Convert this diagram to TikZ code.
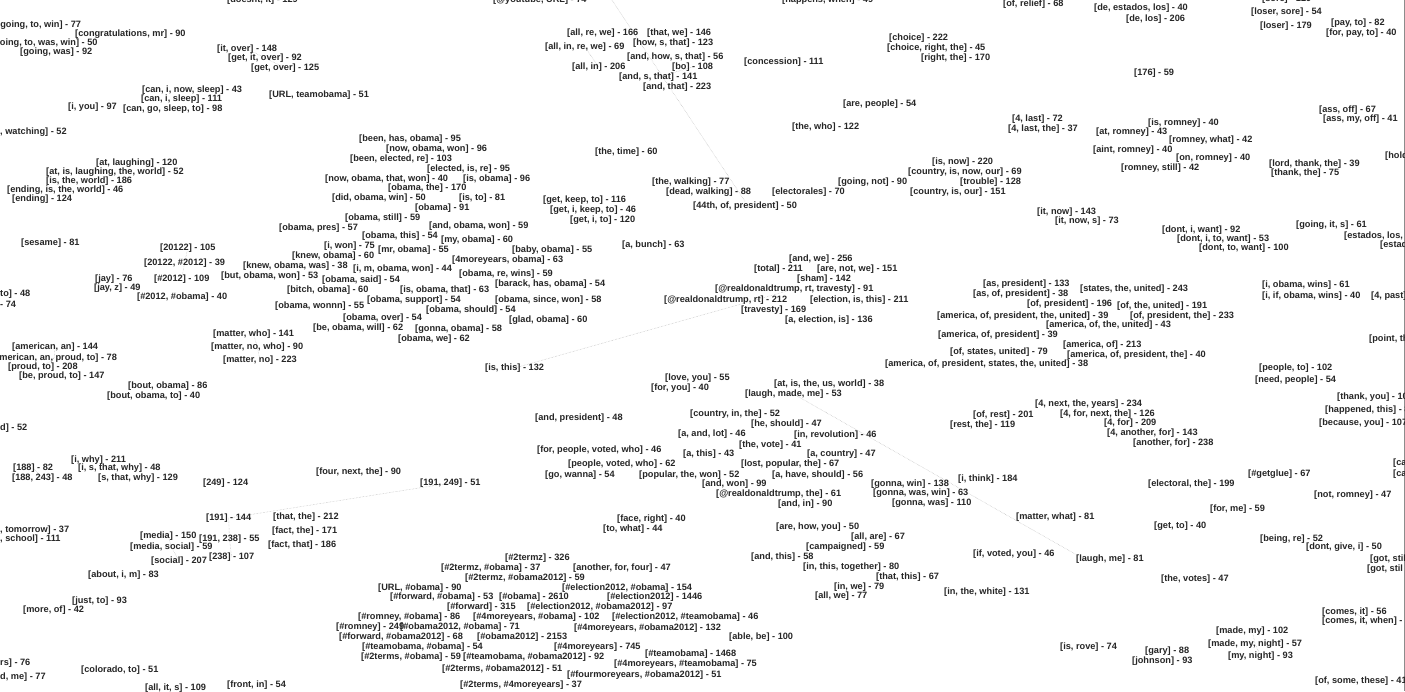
\documentclass[tikz,border=0pt]{standalone}
\usepackage{fontspec}
\setmainfont{Liberation Sans}
\usetikzlibrary{backgrounds}

\begin{document}
\begin{tikzpicture}[
    x=1pt, y=-1pt,
    lbl/.style={anchor=west, inner sep=0pt, font=\fontsize{9.2}{10}\selectfont\bfseries, text=black!85},
    link/.style={draw=black!30, densely dotted, line width=0.45pt}
]
    \useasboundingbox (0,0) rectangle (1405,691);
    \clip (0,0) rectangle (1405,691);

    % top border row
    \node[lbl] (doesntit) at (227,0) {[doesnt, it] - 129};
    \node[lbl] (youtube) at (493,0) {[@youtube, URL] - 74};
    \node[lbl] (happens) at (782,0) {[happens, when] - 49};
    \node[lbl] (relief) at (1003,4) {[of, relief] - 68};
    \node[lbl] (sore) at (1262,-1) {[sore] - 129};

    % upper left
    \node[lbl] (goingtowin) at (-3,25) {[going, to, win] - 77};
    \node[lbl] (congrats) at (75,34) {[congratulations, mr] - 90};
    \node[lbl] (goingtowaswin) at (-9,43) {[going, to, was, win] - 50};
    \node[lbl] (goingwas) at (20,52) {[going, was] - 92};
    \node[lbl] (itover) at (217,49) {[it, over] - 148};
    \node[lbl] (getitover) at (228,58) {[get, it, over] - 92};
    \node[lbl] (getover) at (251,68) {[get, over] - 125};
    \node[lbl] (cannowsleep) at (142,90) {[can, i, now, sleep] - 43};
    \node[lbl] (canisleep) at (141,99) {[can, i, sleep] - 111};
    \node[lbl] (iyou) at (68,107) {[i, you] - 97};
    \node[lbl] (cangosleep) at (123,109) {[can, go, sleep, to] - 98};
    \node[lbl] (urlteam) at (269,95) {[URL, teamobama] - 51};
    \node[lbl] (watching) at (0,132) {, watching] - 52};
    \node[lbl] (atlaughing) at (96,163) {[at, laughing] - 120};
    \node[lbl] (atislaughing) at (46,172) {[at, is, laughing, the, world] - 52};
    \node[lbl] (istheworld) at (46,181) {[is, the, world] - 186};
    \node[lbl] (endingis) at (7,190) {[ending, is, the, world] - 46};
    \node[lbl] (ending) at (12,199) {[ending] - 124};
    \node[lbl] (obamapres) at (279,228) {[obama, pres] - 57};

    % obama cluster
    \node[lbl] (beenhas) at (359,139) {[been, has, obama] - 95};
    \node[lbl] (nowobamawon) at (386,149) {[now, obama, won] - 96};
    \node[lbl] (beenelected) at (350,159) {[been, elected, re] - 103};
    \node[lbl] (electedisre) at (427,169) {[elected, is, re] - 95};
    \node[lbl] (nowobamathat) at (325,179) {[now, obama, that, won] - 40};
    \node[lbl] (isobama) at (463,179) {[is, obama] - 96};
    \node[lbl] (obamathe) at (388,188) {[obama, the] - 170};
    \node[lbl] (didobama) at (332,198) {[did, obama, win] - 50};
    \node[lbl] (isto) at (459,198) {[is, to] - 81};
    \node[lbl] (obama) at (415,208) {[obama] - 91};
    \node[lbl] (obamastill) at (345,218) {[obama, still] - 59};
    \node[lbl] (andobamawon) at (429,226) {[and, obama, won] - 59};
    \node[lbl] (obamathis) at (362,236) {[obama, this] - 54};
    \node[lbl] (myobama) at (441,240) {[my, obama] - 60};
    \node[lbl] (iwon) at (324,246) {[i, won] - 75};
    \node[lbl] (mrobama) at (378,250) {[mr, obama] - 55};
    \node[lbl] (babyobama) at (512,250) {[baby, obama] - 55};
    \node[lbl] (knewobama) at (292,256) {[knew, obama] - 60};
    \node[lbl] (fourmoreobama) at (452,260) {[4moreyears, obama] - 63};
    \node[lbl] (knewobamawas) at (243,266) {[knew, obama, was] - 38};
    \node[lbl] (imobamawon) at (353,269) {[i, m, obama, won] - 44};
    \node[lbl] (obamarewins) at (459,274) {[obama, re, wins] - 59};
    \node[lbl] (butobama) at (221,276) {[but, obama, won] - 53};
    \node[lbl] (obamasaid) at (322,280) {[obama, said] - 54};
    \node[lbl] (barack) at (495,284) {[barack, has, obama] - 54};
    \node[lbl] (bitch) at (287,290) {[bitch, obama] - 60};
    \node[lbl] (isobamathat) at (400,290) {[is, obama, that] - 63};
    \node[lbl] (obamasupport) at (367,300) {[obama, support] - 54};
    \node[lbl] (obamasince) at (495,300) {[obama, since, won] - 58};
    \node[lbl] (obamawonnn) at (275,306) {[obama, wonnn] - 55};
    \node[lbl] (obamashould) at (426,310) {[obama, should] - 54};
    \node[lbl] (obamaover) at (343,318) {[obama, over] - 54};
    \node[lbl] (glad) at (509,320) {[glad, obama] - 60};
    \node[lbl] (beobama) at (313,328) {[be, obama, will] - 62};
    \node[lbl] (gonnaobama) at (415,329) {[gonna, obama] - 58};
    \node[lbl] (obamawe) at (398,339) {[obama, we] - 62};

    % upper middle
    \node[lbl] (allrewe) at (567,33) {[all, re, we] - 166};
    \node[lbl] (allinrewe) at (545,47) {[all, in, re, we] - 69};
    \node[lbl] (allin) at (572,67) {[all, in] - 206};
    \node[lbl] (thatwe) at (647,33) {[that, we] - 146};
    \node[lbl] (howsthat) at (633,43) {[how, s, that] - 123};
    \node[lbl] (andhowsthat) at (627,57) {[and, how, s, that] - 56};
    \node[lbl] (bo) at (672,67) {[bo] - 108};
    \node[lbl] (andsthat) at (619,77) {[and, s, that] - 141};
    \node[lbl] (andthat) at (643,87) {[and, that] - 223};
    \node[lbl] (concession) at (744,62) {[concession] - 111};
    \node[lbl] (choice) at (889,38) {[choice] - 222};
    \node[lbl] (choiceright) at (887,48) {[choice, right, the] - 45};
    \node[lbl] (rightthe) at (921,58) {[right, the] - 170};
    \node[lbl] (arepeople) at (843,104) {[are, people] - 54};
    \node[lbl] (thewho) at (792,127) {[the, who] - 122};
    \node[lbl] (thetime) at (595,152) {[the, time] - 60};
    \node[lbl] (thewalking) at (652,182) {[the, walking] - 77};
    \node[lbl] (deadwalking) at (666,192) {[dead, walking] - 88};
    \node[lbl] (fortyfourth) at (693,206) {[44th, of, president] - 50};
    \node[lbl] (getkeepto) at (543,200) {[get, keep, to] - 116};
    \node[lbl] (getikeepto) at (550,210) {[get, i, keep, to] - 46};
    \node[lbl] (getito) at (570,220) {[get, i, to] - 120};
    \node[lbl] (electorales) at (772,192) {[electorales] - 70};
    \node[lbl] (goingnot) at (838,182) {[going, not] - 90};
    \node[lbl] (isnow) at (932,162) {[is, now] - 220};
    \node[lbl] (countryisnowour) at (908,172) {[country, is, now, our] - 69};
    \node[lbl] (trouble) at (960,182) {[trouble] - 128};
    \node[lbl] (countryisour) at (910,192) {[country, is, our] - 151};
    \node[lbl] (fourlast) at (1012,119) {[4, last] - 72};
    \node[lbl] (fourlastthe) at (1008,129) {[4, last, the] - 37};
    \node[lbl] (itnow) at (1037,212) {[it, now] - 143};
    \node[lbl] (itnows) at (1055,221) {[it, now, s] - 73};

    % upper right
    \node[lbl] (deestadoslos) at (1094,8) {[de, estados, los] - 40};
    \node[lbl] (delos) at (1126,19) {[de, los] - 206};
    \node[lbl] (losersore) at (1251,12) {[loser, sore] - 54};
    \node[lbl] (loser) at (1260,26) {[loser] - 179};
    \node[lbl] (payto) at (1331,23) {[pay, to] - 82};
    \node[lbl] (forpayto) at (1326,33) {[for, pay, to] - 40};
    \node[lbl] (onesevensix) at (1134,73) {[176] - 59};
    \node[lbl] (assoff) at (1319,110) {[ass, off] - 67};
    \node[lbl] (assmyoff) at (1323,119) {[ass, my, off] - 41};
    \node[lbl] (isromney) at (1148,123) {[is, romney] - 40};
    \node[lbl] (atromney) at (1096,132) {[at, romney] - 43};
    \node[lbl] (romneywhat) at (1169,140) {[romney, what] - 42};
    \node[lbl] (aintromney) at (1093,150) {[aint, romney] - 40};
    \node[lbl] (onromney) at (1176,158) {[on, romney] - 40};
    \node[lbl] (romneystill) at (1121,168) {[romney, still] - 42};
    \node[lbl] (lordthank) at (1269,164) {[lord, thank, the] - 39};
    \node[lbl] (thankthe) at (1271,173) {[thank, the] - 75};
    \node[lbl] (hold) at (1385,156) {[hold};
    \node[lbl] (dontiwant) at (1162,230) {[dont, i, want] - 92};
    \node[lbl] (goingits) at (1296,225) {[going, it, s] - 61};
    \node[lbl] (dontitowant) at (1177,239) {[dont, i, to, want] - 53};
    \node[lbl] (donttowant) at (1199,248) {[dont, to, want] - 100};
    \node[lbl] (estadoslos) at (1344,236) {[estados, los,};
    \node[lbl] (estad) at (1380,245) {[estad};

    % middle left
    \node[lbl] (sesame) at (21,243) {[sesame] - 81};
    \node[lbl] (twentyone) at (160,248) {[20122] - 105};
    \node[lbl] (twentyonetag) at (144,263) {[20122, \#2012] - 39};
    \node[lbl] (jay) at (95,279) {[jay] - 76};
    \node[lbl] (tagtwelve) at (154,279) {[\#2012] - 109};
    \node[lbl] (jayz) at (94,288) {[jay, z] - 49};
    \node[lbl] (tagtwelveobama) at (137,297) {[\#2012, \#obama] - 40};
    \node[lbl] (toleft) at (0,294) {to] - 48};
    \node[lbl] (seventyfour) at (0,304) {- 74};
    \node[lbl] (matterwho) at (213,334) {[matter, who] - 141};
    \node[lbl] (matternowho) at (211,347) {[matter, no, who] - 90};
    \node[lbl] (matterno) at (223,360) {[matter, no] - 223};
    \node[lbl] (americanan) at (12,347) {[american, an] - 144};
    \node[lbl] (americanproud) at (-9,358) {[american, an, proud, to] - 78};
    \node[lbl] (proudto) at (8,367) {[proud, to] - 208};
    \node[lbl] (beproud) at (19,376) {[be, proud, to] - 147};
    \node[lbl] (boutobama) at (128,386) {[bout, obama] - 86};
    \node[lbl] (boutobamato) at (107,396) {[bout, obama, to] - 40};
    \node[lbl] (dleft) at (0,428) {d] - 52};
    \node[lbl] (iwhy) at (71,460) {[i, why] - 211};

    % middle
    \node[lbl] (abunch) at (622,245) {[a, bunch] - 63};
    \node[lbl] (isthis) at (485,368) {[is, this] - 132};
    \node[lbl] (loveyou) at (665,378) {[love, you] - 55};
    \node[lbl] (foryou) at (651,388) {[for, you] - 40};
    \node[lbl] (andpresident) at (535,418) {[and, president] - 48};
    \node[lbl] (countryinthe) at (690,414) {[country, in, the] - 52};
    \node[lbl] (aandlot) at (678,434) {[a, and, lot] - 46};
    \node[lbl] (forpeople) at (537,450) {[for, people, voted, who] - 46};
    \node[lbl] (athis) at (683,454) {[a, this] - 43};
    \node[lbl] (peoplevoted) at (568,464) {[people, voted, who] - 62};
    \node[lbl] (gowanna) at (545,475) {[go, wanna] - 54};
    \node[lbl] (popular) at (639,475) {[popular, the, won] - 52};
    \node[lbl] (andwe) at (789,259) {[and, we] - 256};
    \node[lbl] (total) at (754,269) {[total] - 211};
    \node[lbl] (arenotwe) at (817,269) {[are, not, we] - 151};
    \node[lbl] (sham) at (797,279) {[sham] - 142};
    \node[lbl] (rttravesty) at (715,289) {[@realdonaldtrump, rt, travesty] - 91};
    \node[lbl] (realrt) at (664,300) {[@realdonaldtrump, rt] - 212};
    \node[lbl] (electionisthis) at (810,300) {[election, is, this] - 211};
    \node[lbl] (travesty) at (741,310) {[travesty] - 169};
    \node[lbl] (aelection) at (785,320) {[a, election, is] - 136};
    \node[lbl] (atistheus) at (774,384) {[at, is, the, us, world] - 38};
    \node[lbl] (laughmademe) at (745,394) {[laugh, made, me] - 53};
    \node[lbl] (heshould) at (751,424) {[he, should] - 47};
    \node[lbl] (inrevolution) at (794,435) {[in, revolution] - 46};
    \node[lbl] (thevote) at (739,445) {[the, vote] - 41};
    \node[lbl] (acountry) at (807,454) {[a, country] - 47};
    \node[lbl] (lostpopular) at (741,464) {[lost, popular, the] - 67};

    % america cluster
    \node[lbl] (aspresident) at (983,284) {[as, president] - 133};
    \node[lbl] (asofpresident) at (973,294) {[as, of, president] - 38};
    \node[lbl] (statestheunited) at (1080,289) {[states, the, united] - 243};
    \node[lbl] (ofpresident) at (1027,304) {[of, president] - 196};
    \node[lbl] (oftheunited) at (1117,306) {[of, the, united] - 191};
    \node[lbl] (amopthu) at (937,316) {[america, of, president, the, united] - 39};
    \node[lbl] (ofpresidentthe) at (1130,316) {[of, president, the] - 233};
    \node[lbl] (amoftheunited) at (1046,325) {[america, of, the, united] - 43};
    \node[lbl] (amofpresident) at (938,335) {[america, of, president] - 39};
    \node[lbl] (americaof) at (1063,345) {[america, of] - 213};
    \node[lbl] (ofstatesunited) at (950,352) {[of, states, united] - 79};
    \node[lbl] (amopt) at (1067,355) {[america, of, president, the] - 40};
    \node[lbl] (amopstu) at (885,364) {[america, of, president, states, the, united] - 38};
    \node[lbl] (fournextyears) at (1035,404) {[4, next, the, years] - 234};
    \node[lbl] (ofrest) at (973,415) {[of, rest] - 201};
    \node[lbl] (restthe) at (950,425) {[rest, the] - 119};
    \node[lbl] (fourfornext) at (1060,414) {[4, for, next, the] - 126};
    \node[lbl] (fourfor) at (1104,423) {[4, for] - 209};
    \node[lbl] (fouranother) at (1107,433) {[4, another, for] - 143};
    \node[lbl] (anotherfor) at (1133,443) {[another, for] - 238};

    % middle right
    \node[lbl] (iobamawins) at (1262,285) {[i, obama, wins] - 61};
    \node[lbl] (iifobamawins) at (1262,296) {[i, if, obama, wins] - 40};
    \node[lbl] (fourpast) at (1371,296) {[4, past]};
    \node[lbl] (pointth) at (1369,339) {[point, th};
    \node[lbl] (peopleto) at (1259,368) {[people, to] - 102};
    \node[lbl] (needpeople) at (1255,380) {[need, people] - 54};
    \node[lbl] (thankyou) at (1337,397) {[thank, you] - 10};
    \node[lbl] (happened) at (1325,410) {[happened, this] - 8};
    \node[lbl] (becauseyou) at (1319,423) {[because, you] - 107};
    \node[lbl] (caone) at (1393,463) {[ca};
    \node[lbl] (catwo) at (1393,474) {[ca};

    % lower left
    \node[lbl] (oneeighteight) at (13,468) {[188] - 82};
    \node[lbl] (isthatwhy) at (78,468) {[i, s, that, why] - 48};
    \node[lbl] (oneeighttwo) at (12,478) {[188, 243] - 48};
    \node[lbl] (sthatwhy) at (98,478) {[s, that, why] - 129};
    \node[lbl] (twofournine) at (203,483) {[249] - 124};
    \node[lbl] (fournextthe) at (316,472) {[four, next, the] - 90};
    \node[lbl] (nineonefour) at (420,483) {[191, 249] - 51};
    \node[lbl] (nineone) at (206,518) {[191] - 144};
    \node[lbl] (thatthe) at (273,517) {[that, the] - 212};
    \node[lbl] (factthe) at (272,531) {[fact, the] - 171};
    \node[lbl] (factthat) at (268,545) {[fact, that] - 186};
    \node[lbl] (media) at (140,536) {[media] - 150};
    \node[lbl] (ninethree) at (199,539) {[191, 238] - 55};
    \node[lbl] (mediasocial) at (130,547) {[media, social] - 59};
    \node[lbl] (social) at (151,561) {[social] - 207};
    \node[lbl] (twothreeeight) at (209,557) {[238] - 107};
    \node[lbl] (aboutim) at (88,575) {[about, i, m] - 83};
    \node[lbl] (tomorrow) at (0,530) {, tomorrow] - 37};
    \node[lbl] (school) at (0,539) {, school] - 111};
    \node[lbl] (justto) at (72,601) {[just, to] - 93};
    \node[lbl] (moreof) at (23,610) {[more, of] - 42};
    \node[lbl] (rsleft) at (0,663) {rs] - 76};
    \node[lbl] (dmeleft) at (0,677) {d, me] - 77};
    \node[lbl] (colorado) at (81,670) {[colorado, to] - 51};
    \node[lbl] (allits) at (145,688) {[all, it, s] - 109};
    \node[lbl] (frontin) at (227,685) {[front, in] - 54};

    % hashtag cluster
    \node[lbl] (faceright) at (617,519) {[face, right] - 40};
    \node[lbl] (towhat) at (603,529) {[to, what] - 44};
    \node[lbl] (twotermz) at (505,558) {[\#2termz] - 326};
    \node[lbl] (twotermzobama) at (441,568) {[\#2termz, \#obama] - 37};
    \node[lbl] (anotherforfour) at (573,568) {[another, for, four] - 47};
    \node[lbl] (twotermzobtwelve) at (465,578) {[\#2termz, \#obama2012] - 59};
    \node[lbl] (urlobama) at (378,588) {[URL, \#obama] - 90};
    \node[lbl] (electionobama) at (562,588) {[\#election2012, \#obama] - 154};
    \node[lbl] (forwardobama) at (390,597) {[\#forward, \#obama] - 53};
    \node[lbl] (hashobama) at (499,597) {[\#obama] - 2610};
    \node[lbl] (election) at (607,597) {[\#election2012] - 1446};
    \node[lbl] (forward) at (447,607) {[\#forward] - 315};
    \node[lbl] (electionobtwelve) at (527,607) {[\#election2012, \#obama2012] - 97};
    \node[lbl] (romneyobama) at (358,617) {[\#romney, \#obama] - 86};
    \node[lbl] (fourmoreyobama) at (473,617) {[\#4moreyears, \#obama] - 102};
    \node[lbl] (electionteam) at (612,617) {[\#election2012, \#teamobama] - 46};
    \node[lbl] (romney) at (336,627) {[\#romney] - 249};
    \node[lbl] (obtwelveobama) at (400,627) {[\#obama2012, \#obama] - 71};
    \node[lbl] (fourmoreobtwelve) at (574,628) {[\#4moreyears, \#obama2012] - 132};
    \node[lbl] (forwardobtwelve) at (339,637) {[\#forward, \#obama2012] - 68};
    \node[lbl] (obamatwelve) at (477,637) {[\#obama2012] - 2153};
    \node[lbl] (ablebe) at (729,637) {[able, be] - 100};
    \node[lbl] (teamobamaobama) at (362,647) {[\#teamobama, \#obama] - 54};
    \node[lbl] (fourmoreyears) at (554,647) {[\#4moreyears] - 745};
    \node[lbl] (twotermsobama) at (361,657) {[\#2terms, \#obama] - 59};
    \node[lbl] (teamobtwelve) at (463,657) {[\#teamobama, \#obama2012] - 92};
    \node[lbl] (teamobama) at (645,654) {[\#teamobama] - 1468};
    \node[lbl] (twotermsobtwelve) at (442,669) {[\#2terms, \#obama2012] - 51};
    \node[lbl] (fourmoreteam) at (614,664) {[\#4moreyears, \#teamobama] - 75};
    \node[lbl] (fourmoreyearsobtwelve) at (567,675) {[\#fourmoreyears, \#obama2012] - 51};
    \node[lbl] (twotermsfourmore) at (460,685) {[\#2terms, \#4moreyears] - 37};

    % lower middle
    \node[lbl] (ahaveshould) at (772,475) {[a, have, should] - 56};
    \node[lbl] (andwon) at (702,484) {[and, won] - 99};
    \node[lbl] (realthe) at (716,494) {[@realdonaldtrump, the] - 61};
    \node[lbl] (andin) at (778,504) {[and, in] - 90};
    \node[lbl] (gonnawin) at (871,484) {[gonna, win] - 138};
    \node[lbl] (ithink) at (958,479) {[i, think] - 184};
    \node[lbl] (gonnawaswin) at (873,493) {[gonna, was, win] - 63};
    \node[lbl] (gonnawas) at (892,503) {[gonna, was] - 110};
    \node[lbl] (matterwhat) at (1016,517) {[matter, what] - 81};
    \node[lbl] (arehowyou) at (776,527) {[are, how, you] - 50};
    \node[lbl] (allare) at (851,537) {[all, are] - 67};
    \node[lbl] (campaigned) at (806,547) {[campaigned] - 59};
    \node[lbl] (andthis) at (751,557) {[and, this] - 58};
    \node[lbl] (ifvotedyou) at (973,554) {[if, voted, you] - 46};
    \node[lbl] (inthistogether) at (803,567) {[in, this, together] - 80};
    \node[lbl] (thatthis) at (876,577) {[that, this] - 67};
    \node[lbl] (inwe) at (834,587) {[in, we] - 79};
    \node[lbl] (allwe) at (815,596) {[all, we] - 77};
    \node[lbl] (inthewhite) at (944,592) {[in, the, white] - 131};

    % lower right
    \node[lbl] (getglue) at (1248,474) {[\#getglue] - 67};
    \node[lbl] (electoralthe) at (1148,484) {[electoral, the] - 199};
    \node[lbl] (notromney) at (1314,495) {[not, romney] - 47};
    \node[lbl] (forme) at (1210,509) {[for, me] - 59};
    \node[lbl] (getto) at (1154,526) {[get, to] - 40};
    \node[lbl] (beingre) at (1260,539) {[being, re] - 52};
    \node[lbl] (dontgivei) at (1306,547) {[dont, give, i] - 50};
    \node[lbl] (gotstilone) at (1370,559) {[got, stil};
    \node[lbl] (gotstiltwo) at (1367,569) {[got, stil};
    \node[lbl] (laughme) at (1076,559) {[laugh, me] - 81};
    \node[lbl] (thevotes) at (1161,579) {[the, votes] - 47};
    \node[lbl] (comesit) at (1322,612) {[comes, it] - 56};
    \node[lbl] (comesitwhen) at (1322,621) {[comes, it, when] - 3};
    \node[lbl] (mademy) at (1216,631) {[made, my] - 102};
    \node[lbl] (mademynight) at (1208,644) {[made, my, night] - 57};
    \node[lbl] (mynight) at (1228,656) {[my, night] - 93};
    \node[lbl] (isrove) at (1060,647) {[is, rove] - 74};
    \node[lbl] (gary) at (1145,651) {[gary] - 88};
    \node[lbl] (johnson) at (1132,661) {[johnson] - 93};
    \node[lbl] (ofsomethese) at (1315,681) {[of, some, these] - 41};

    \coordinate (offtop) at (604,-12);

    \begin{pgfonlayer}{background}
        \fill[white] (0,0) rectangle (1405,691);
        \draw[black!45, line width=0.6pt] (1404,0) -- (1404,691);
        % links
        \draw[link] (offtop) -- (fortyfourth.north);
        \draw[link] (isthis.center) -- (rttravesty.center);
        \draw[link] (laughmademe.center) -- (laughme.north west);
        \draw[link] (nineone.center) -- (nineonefour.center);
        \draw[link] (itover.center) -- (getitover.center) -- (getover.center);
        \draw[link] (matterwho.center) -- (matternowho.center) -- (matterno.center);
        \draw[link] (oneeighteight.center) -- (oneeighttwo.center);
        \draw[link] (nineone.center) -- (ninethree.center) -- (twothreeeight.center);
        \draw[link] (media.center) -- (mediasocial.center) -- (social.center);
        \draw[link] (mademy.center) -- (mademynight.center) -- (mynight.center);
        \draw[link] (comesit.center) -- (comesitwhen.center);
        \draw[link] (twentyone.center) -- (twentyonetag.center) -- (tagtwelve.center);
        \draw[link] (americanan.center) -- (americanproud.center) -- (proudto.center);
        \draw[link] (allinrewe.center) -- (allin.center);
        \draw[link] (andsthat.center) -- (bo.center);
    \end{pgfonlayer}
\end{tikzpicture}
\end{document}
